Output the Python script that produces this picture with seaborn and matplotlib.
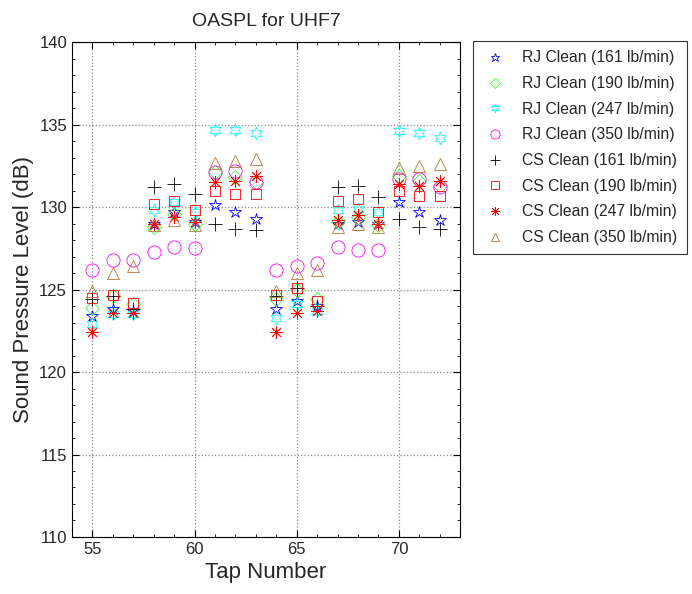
import numpy as np
import pandas as pd
import matplotlib
matplotlib.use("Agg")
import matplotlib.pyplot as plt
from matplotlib.ticker import MultipleLocator
import seaborn as sns

taps = list(range(55, 73))

rj_161 = [123.4, 123.8, 123.7, 129.0, 129.7, 129.1, 130.1, 129.7, 129.3,
          123.8, 124.3, 124.0, 129.0, 129.1, 129.0, 130.3, 129.7, 129.2]
rj_190 = [123.9, 124.6, 124.1, 128.8, 129.6, 129.0, 132.1, 131.8, 131.5,
          124.4, 125.0, 124.4, 129.1, 129.4, 128.9, 131.9, 131.6, 131.3]
rj_247 = [122.9, 123.5, 123.5, 129.8, 130.3, 129.7, 134.7, 134.7, 134.5,
          123.3, 124.1, 123.7, 129.8, 129.9, 129.7, 134.6, 134.5, 134.2]
rj_350 = [126.2, 126.8, 126.8, 127.3, 127.6, 127.5, 132.1, 132.2, 131.5,
          126.2, 126.4, 126.6, 127.6, 127.4, 127.4, 131.7, 131.7, 131.2]
cs_161 = [124.4, 124.6, 123.8, 131.2, 131.4, 130.8, 129.0, 128.7, 128.6,
          124.6, 125.1, 124.0, 131.2, 131.3, 130.6, 129.3, 128.8, 128.7]
cs_190 = [124.5, 124.7, 124.2, 130.2, 130.4, 129.8, 131.0, 130.8, 130.8,
          124.7, 125.1, 124.3, 130.4, 130.5, 129.7, 131.0, 130.7, 130.7]
cs_247 = [122.4, 123.6, 123.6, 129.0, 129.4, 129.1, 131.5, 131.6, 131.9,
          122.4, 123.6, 123.7, 129.2, 129.5, 129.0, 131.4, 131.3, 131.6]
cs_350 = [124.9, 126.0, 126.4, 128.9, 129.2, 128.9, 132.7, 132.8, 132.9,
          124.9, 126.0, 126.2, 128.8, 129.0, 128.8, 132.4, 132.5, 132.6]

labels = ["RJ Clean (161 lb/min)", "RJ Clean (190 lb/min)",
          "RJ Clean (247 lb/min)", "RJ Clean (350 lb/min)",
          "CS Clean (161 lb/min)", "CS Clean (190 lb/min)",
          "CS Clean (247 lb/min)", "CS Clean (350 lb/min)"]
series = [rj_161, rj_190, rj_247, rj_350, cs_161, cs_190, cs_247, cs_350]
colors = ["#0000ff", "#33ff33", "#00ffff", "#ff00ff",
          "#000000", "#ff0000", "#ff0000", "#b8733a"]
markers = ["*", "D", (6, 1, 0), "o", "+", "s", (8, 2, 0), "^"]
msizes = [9, 7, 9, 9.5, 10, 7.5, 9, 8.5]

sns.set_style("white")
plt.rcParams['font.family'] = ['Liberation Sans', 'DejaVu Sans']

fig = plt.figure(figsize=(6.92, 5.94), dpi=100)
ax = fig.add_axes([0.104, 0.096, 0.561, 0.833])

for lab, vals, c, m, ms in zip(labels, series, colors, markers, msizes):
    df = pd.DataFrame({"tap": taps, "spl": vals})
    sns.lineplot(data=df, x="tap", y="spl", ax=ax, label=lab,
                 linestyle="", marker=m, markersize=ms,
                 markerfacecolor="none", markeredgecolor=c, color=c,
                 markeredgewidth=0.6)

ax.set_xlim(54, 73)
ax.set_ylim(110, 140)
ax.xaxis.set_major_locator(MultipleLocator(5))
ax.xaxis.set_minor_locator(MultipleLocator(1))
ax.yaxis.set_major_locator(MultipleLocator(5))
ax.yaxis.set_minor_locator(MultipleLocator(1))
ax.tick_params(which="both", direction="in", top=True, right=True,
               bottom=True, left=True, labelsize=12, color="black")
ax.tick_params(which="major", length=5)
ax.tick_params(which="minor", length=2.5)
ax.grid(True, which="major", linestyle=":", color="#888888", linewidth=0.9)
for s in ax.spines.values():
    s.set_color("black")
    s.set_linewidth(0.8)

ax.set_xlabel("Tap Number", fontsize=16)
ax.set_ylabel("Sound Pressure Level (dB)", fontsize=16)
ax.set_title("OASPL for UHF7", fontsize=14, pad=12)

leg = ax.legend(loc="upper left", bbox_to_anchor=(1.022, 1.012), fontsize=11.3,
                frameon=True, fancybox=False, edgecolor="black",
                handlelength=1.6, labelspacing=0.68, borderpad=0.6,
                markerscale=0.7, handletextpad=0.9, borderaxespad=0.3)
leg.get_frame().set_linewidth(0.8)

fig.savefig("out.png", dpi=100)
